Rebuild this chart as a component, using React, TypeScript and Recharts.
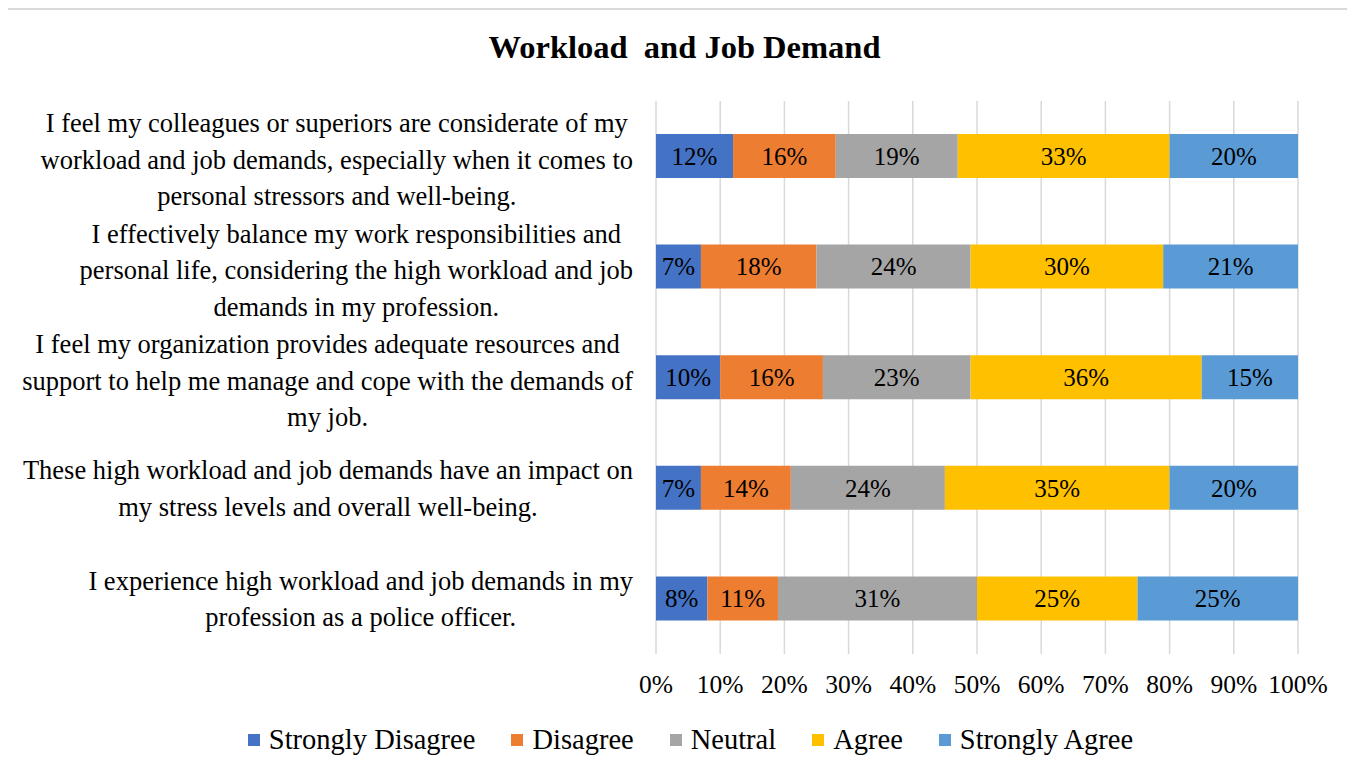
import { BarChart, Bar, XAxis, YAxis, CartesianGrid, LabelList } from 'recharts'

const FONT = '"Liberation Serif", "Times New Roman", serif'

const STATEMENTS = [
  [
    'I feel my colleagues or superiors are considerate of my',
    'workload and job demands, especially when it comes to',
    'personal stressors and well-being.',
  ],
  [
    'I effectively balance my work responsibilities and',
    'personal life, considering the high workload and job',
    'demands in my profession.',
  ],
  [
    'I feel my organization provides adequate resources and',
    'support to help me manage and cope with the demands of',
    'my job.',
  ],
  [
    'These high workload and job demands have an impact on',
    'my stress levels and overall well-being.',
  ],
  [
    'I experience high workload and job demands in my',
    'profession as a police officer.',
  ],
]

const stronglyDisagree = [12, 7, 10, 7, 8]
const disagree = [16, 18, 16, 14, 11]
const neutral = [19, 24, 23, 24, 31]
const agree = [33, 30, 36, 35, 25]
const stronglyAgree = [20, 21, 15, 20, 25]

const X_TICKS = [0, 10, 20, 30, 40, 50, 60, 70, 80, 90, 100]

const SERIES = [
  { key: 'stronglyDisagree', label: 'Strongly Disagree', color: '#4472c4' },
  { key: 'disagree', label: 'Disagree', color: '#ed7d31' },
  { key: 'neutral', label: 'Neutral', color: '#a5a5a5' },
  { key: 'agree', label: 'Agree', color: '#ffc000' },
  { key: 'stronglyAgree', label: 'Strongly Agree', color: '#5b9bd5' },
]

const data = STATEMENTS.map((lines, i) => ({
  statement: lines.join(' '),
  stronglyDisagree: stronglyDisagree[i],
  disagree: disagree[i],
  neutral: neutral[i],
  agree: agree[i],
  stronglyAgree: stronglyAgree[i],
}))

const LABEL_SIZE = 26.5
const LINE_H = 36.5

let ctx: CanvasRenderingContext2D | null = null
function measure(s: string, size: number) {
  if (!ctx) ctx = document.createElement('canvas').getContext('2d')
  if (!ctx) return s.length * size * 0.45
  ctx.font = `${size}px "Liberation Serif"`
  return ctx.measureText(s).width
}

// wrapped statement, lines centred in a block that sits against the axis
function StatementTick(props: any) {
  const { x, y, payload } = props
  const idx = data.findIndex((d) => d.statement === payload.value)
  const lines = STATEMENTS[idx] ?? [String(payload.value)]
  const widest = Math.max(...lines.map((l) => measure(l, LABEL_SIZE)))
  const right = x - 15
  const cx = right - widest / 2
  const top = y + (lines.length > 2 ? 3 : 0) - ((lines.length - 1) * LINE_H) / 2
  return (
    <text textAnchor="middle" fontFamily={FONT} fontSize={LABEL_SIZE} fill="#000">
      {lines.map((l, i) => (
        <tspan key={i} x={cx} y={top + i * LINE_H} dy="0.35em">
          {l}
        </tspan>
      ))}
    </text>
  )
}

export default function App() {
  return (
    <div
      style={{
        position: 'relative',
        marginLeft: -2,
        width: 1345,
        height: 764,
        border: '2px solid #d9d9d9',
        borderBottom: 'none',
        background: '#fff',
        fontFamily: FONT,
      }}
    >
      <div
        style={{
          position: 'absolute',
          top: 19,
          left: 0,
          width: 1345,
          textAlign: 'center',
          fontSize: 32.5,
          fontWeight: 'bold',
          whiteSpace: 'pre',
          paddingLeft: 8,
          boxSizing: 'border-box',
        }}
      >
        {'Workload  and Job Demand'}
      </div>
      <BarChart
        width={1345}
        height={710}
        data={data}
        layout="vertical"
        margin={{ top: 91, right: 55, left: 0, bottom: 0 }}
        barSize={44}
      >
        <CartesianGrid horizontal={false} stroke="#d9d9d9" strokeWidth={1.5} />
        <XAxis
          type="number"
          domain={[0, 100]}
          ticks={X_TICKS}
          tickFormatter={(v: number) => `${v}%`}
          axisLine={false}
          tickLine={false}
          tickSize={0}
          tickMargin={21}
          tick={{ fill: '#000', fontSize: 25.5, fontFamily: FONT }}
          interval={0}
          height={66}
        />
        <YAxis
          type="category"
          dataKey="statement"
          width={648}
          axisLine={false}
          tickLine={false}
          tickSize={0}
          tickMargin={8}
          tick={<StatementTick />}
          interval={0}
        />
        {SERIES.map((s) => (
          <Bar key={s.key} dataKey={s.key} stackId="a" fill={s.color} isAnimationActive={false}>
            <LabelList
              dataKey={s.key}
              position="center"
              formatter={(v: any) => `${v}%`}
              fill="#000"
              fontSize={25}
              fontFamily={FONT}
            />
          </Bar>
        ))}
      </BarChart>
      <div
        style={{
          position: 'absolute',
          top: 714,
          left: 0,
          width: 1345,
          display: 'flex',
          justifyContent: 'center',
          gap: 36,
          fontSize: 28.5,
          paddingLeft: 20,
          boxSizing: 'border-box',
        }}
      >
        {SERIES.map((s) => (
          <div key={s.key} style={{ display: 'flex', alignItems: 'center', gap: 9 }}>
            <span style={{ width: 12, height: 12, background: s.color, display: 'inline-block' }} />
            <span>{s.label}</span>
          </div>
        ))}
      </div>
    </div>
  )
}
